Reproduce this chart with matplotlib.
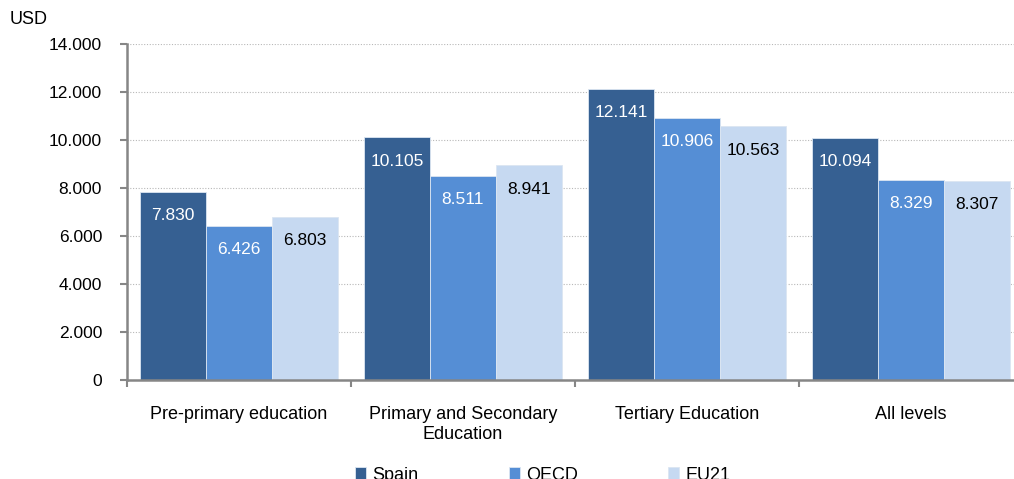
import numpy as np
import matplotlib.pyplot as plt
from matplotlib.ticker import FuncFormatter, MultipleLocator

plt.rcParams['font.family'] = ['Liberation Sans', 'DejaVu Sans']

# Spending per student by level (USD)
categories = ["Pre-primary education", "Primary and Secondary\nEducation",
              "Tertiary Education", "All levels"]
spain = [7830, 10105, 12141, 10094]
oecd = [6426, 8511, 10906, 8329]
eu21 = [6803, 8941, 10563, 8307]

series = [("Spain", spain, "#366092", "white"),
          ("OECD", oecd, "#558ED5", "white"),
          ("EU21", eu21, "#C6D9F1", "black")]

fig = plt.figure(figsize=(10.14, 4.79), dpi=100)
ax = fig.add_axes([127 / 1014, 1 - 380 / 479, 896 / 1014, 336 / 479])

x = np.arange(len(categories))
w = 0.295
for i, (name, vals, color, tcolor) in enumerate(series):
    pos = x + (i - 1) * w
    bars = ax.bar(pos, vals, w, color=color, edgecolor="#dce6f2", linewidth=0.6,
                  label=name, zorder=2)
    for b, v in zip(bars, vals):
        ax.annotate(f"{v / 1000:.3f}", (b.get_x() + b.get_width() / 2, v),
                    xytext=(0, -17), textcoords="offset points",
                    ha="center", va="center", color=tcolor, fontsize=12.5)

ax.set_xlim(-0.5, len(categories) - 0.5)
ax.set_ylim(0, 14000)
ax.yaxis.set_major_locator(MultipleLocator(2000))
ax.yaxis.set_major_formatter(FuncFormatter(
    lambda v, p: "0" if v == 0 else f"{int(v):,}".replace(",", ".")))
ax.grid(axis="y", color="#b8b8b8", linestyle=(0, (1, 1.5)), linewidth=0.8, zorder=0)

ax.set_xticks(x)
ax.set_xticklabels(categories, fontsize=13)
ax.tick_params(axis="x", length=0, pad=19)
ax.set_xticks(np.arange(len(categories) + 1) - 0.5, minor=True)
ax.tick_params(axis="x", which="minor", length=5, color="#868686", width=1.5)
ax.tick_params(axis="y", labelsize=12.5, length=5, color="#868686", width=1.5, pad=13)

for s in ["top", "right"]:
    ax.spines[s].set_visible(False)
for s in ["left", "bottom"]:
    ax.spines[s].set_color("#868686")
    ax.spines[s].set_linewidth(1.8)

fig.text(10 / 1014, 1 - 20 / 479, "USD", fontsize=13, va="center")

fig.legend(loc="center", bbox_to_anchor=(0.5 + 36 / 1014, 1 - 475 / 479), ncol=3,
           frameon=False, fontsize=13, handlelength=0.6, handleheight=0.6,
           handletextpad=0.35, columnspacing=5.0)

fig.savefig("out.png", dpi=100)
